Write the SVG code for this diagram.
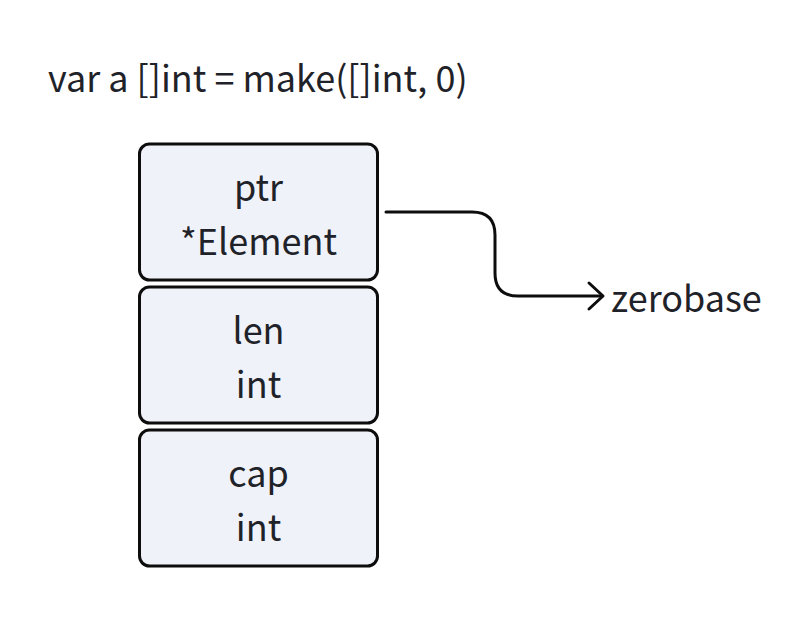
<svg xmlns="http://www.w3.org/2000/svg" width="812" height="618" viewBox="0 0 812 618">
<style>
.box{fill:#eff2f9;stroke:#0d0d0d;stroke-width:3}
.t{font-family:"Noto Sans CJK SC","Noto Sans",sans-serif;font-size:36px;fill:#1f2329}
.c{text-anchor:middle}
.ln{fill:none;stroke:#0d0d0d;stroke-width:3;stroke-linecap:round;stroke-linejoin:round}
</style>
<rect width="812" height="618" fill="#ffffff"/>
<text class="t" x="48" y="92">var a []int = make([]int, 0)</text>
<g id="ptr">
<rect class="box" x="139.5" y="144" width="238" height="136" rx="10"/>
<text class="t c" x="258.5" y="201">ptr</text>
<text class="t c" x="258.5" y="255">*Element</text>
</g>
<g id="len">
<rect class="box" x="139.5" y="287" width="238" height="136" rx="10"/>
<text class="t c" x="258.5" y="344">len</text>
<text class="t c" x="258.5" y="398">int</text>
</g>
<g id="cap">
<rect class="box" x="139.5" y="430" width="238" height="136" rx="10"/>
<text class="t c" x="258.5" y="487">cap</text>
<text class="t c" x="258.5" y="541">int</text>
</g>
<g id="zerobase">
<text class="t" x="611" y="312">zerobase</text>
</g>
<g id="connectors">
<path class="ln" d="M386,212 H472 Q495,212 495,235 V273 Q495,296 518,296 H602"/>
<path class="ln" d="M589,283 L603,296 L589,309"/>
</g>
</svg>
